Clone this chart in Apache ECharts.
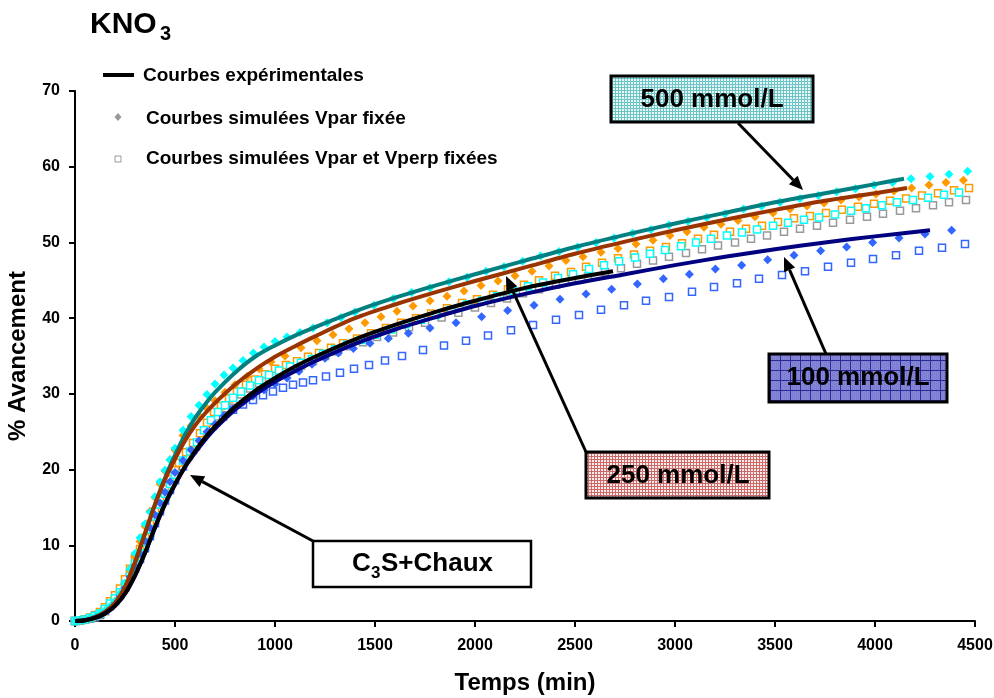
<!DOCTYPE html>
<html lang="fr">
<head>
    <meta charset="UTF-8">
    <title>KNO3 - % Avancement</title>
    <style>
        html, body { margin: 0; padding: 0; background: #ffffff; }
        #chart { width: 994px; height: 698px; }
    </style>
</head>
<body>
<div id="chart"></div>
<script src="https://cdn.jsdelivr.net/npm/echarts@6/dist/echarts.min.js"></script>
<script>
    /* axes */
    var xTicks = [0, 500, 1000, 1500, 2000, 2500, 3000, 3500, 4000, 4500];
    var yTicks = [0, 10, 20, 30, 40, 50, 60, 70];

    /* courbes expérimentales (temps en min, % avancement) */
    var expT = [0, 50, 100, 150, 200, 250, 300, 350, 400, 450, 500, 550, 600, 650, 700, 800, 900, 1000, 1100, 1200,
        1400, 1600, 1800, 2000, 2250, 2500, 2750, 3000, 3250, 3500, 3750, 4000];
    var exp500T = expT.concat([4145]);
    var exp500V = [0, 0.1, 0.5, 1.2, 2.3, 4.3, 7.6, 11.5, 15.4, 18.9, 21.9, 24.6, 26.8, 28.6, 30.2, 32.8, 34.9, 36.4, 37.7, 38.8,
        40.9, 42.7, 44.3, 45.8, 47.6, 49.4, 51.0, 52.5, 53.9, 55.3, 56.5, 57.7, 58.4];
    var exp250T = expT.concat([4160]);
    var exp250V = [0, 0.1, 0.5, 1.2, 2.4, 4.5, 7.8, 11.6, 15.4, 18.7, 21.4, 23.8, 25.8, 27.4, 28.8, 31.2, 33.2, 34.9, 36.3, 37.6,
        40.0, 41.8, 43.4, 44.9, 46.7, 48.5, 50.1, 51.6, 53.0, 54.3, 55.5, 56.5, 57.2];
    var exp100T = expT.concat([4275]);
    var exp100V = [0, 0.1, 0.4, 1.0, 2.0, 3.6, 6.0, 9.0, 12.3, 15.4, 18.0, 20.3, 22.2, 23.9, 25.4, 27.9, 29.9, 31.6, 33.0, 34.3,
        36.6, 38.5, 40.1, 41.6, 43.2, 44.6, 45.8, 47.0, 48.1, 49.1, 50.0, 50.8, 51.6];
    var expC3sT = expT.slice(0, 26).concat([2690]);
    var expC3sV = [0, 0.1, 0.4, 1.0, 2.0, 3.6, 6.0, 9.0, 12.4, 15.5, 18.1, 20.4, 22.4, 24.2, 25.7, 28.3, 30.4, 32.1, 33.6, 34.9,
        37.2, 39.1, 40.8, 42.3, 44.0, 45.3, 46.2];

    /* courbes simulées : début commun */
    var simEarlyT = [0, 25, 50, 75, 100, 125, 150, 175, 200, 225, 250, 275, 300, 325, 350, 375, 400, 425, 450, 475, 500];

    /* Vpar fixée (losanges) */
    var dia500T = simEarlyT.concat([540, 580, 620, 660, 700, 745, 790, 840, 892, 945, 1000, 1060, 1125, 1190, 1260, 1330, 1400,
        1495, 1592, 1683, 1775, 1870, 1960, 2055, 2145, 2238, 2328, 2420, 2513, 2605, 2695, 2788, 2880, 2970, 3065, 3158,
        3250, 3342, 3433, 3525, 3625, 3717, 3808, 3902, 3995, 4088, 4180, 4275, 4370, 4463]);
    var dia500V = [0, 0.05, 0.15, 0.35, 0.6, 1.0, 1.4, 1.9, 2.6, 3.6, 5.0, 6.9, 8.9, 11.0, 12.8, 14.4, 16.4, 18.4, 19.9, 21.3, 22.8,
        25.2, 27.0, 28.5, 29.9, 31.3, 32.5, 33.4, 34.4, 35.4, 36.2, 36.9, 37.5, 38.1, 38.7, 39.4, 40.1, 40.8, 41.7, 42.6, 43.4,
        44.0, 44.8, 45.4, 46.2, 46.8, 47.5, 48.2, 48.8, 49.4, 50.0, 50.6, 51.2, 51.7, 52.3, 52.8, 53.3, 53.8, 54.4, 54.8, 55.3,
        55.8, 56.2, 56.7, 57.1, 57.6, 57.9, 58.4, 58.7, 59.0, 59.4];
    var dia250T = simEarlyT.concat([540, 580, 620, 660, 700, 750, 800, 860, 920, 980, 1050, 1130, 1210, 1290, 1370, 1450, 1530,
        1610, 1690, 1775, 1860, 1945, 2030, 2115, 2200, 2285, 2370, 2455, 2540, 2630, 2715, 2805, 2890, 2975, 3060, 3145,
        3230, 3315, 3400, 3490, 3575, 3660, 3745, 3830, 3920, 4005, 4095, 4183, 4270, 4355, 4442]);
    var dia250V = [0, 0.05, 0.15, 0.3, 0.5, 0.8, 1.2, 1.8, 2.6, 3.6, 5.0, 6.6, 8.5, 10.5, 12.5, 14.5, 16.3, 18.1, 19.8, 21.3, 22.6,
        24.5, 25.8, 27.1, 28.1, 29.1, 30.2, 31.2, 32.3, 33.3, 34.2, 35.0, 36.1, 37.0, 37.8, 38.6, 39.4, 40.2, 40.9, 41.6, 42.3,
        42.9, 43.6, 44.3, 44.9, 45.6, 46.2, 46.9, 47.6, 48.1, 48.7, 49.2, 49.8, 50.3, 50.9, 51.4, 52.0, 52.4, 52.9, 53.4, 53.9,
        54.4, 54.8, 55.2, 55.6, 56.0, 56.4, 56.8, 57.2, 57.6, 57.9, 58.2];
    var dia100T = simEarlyT.concat([540, 580, 620, 660, 700, 745, 790, 840, 890, 945, 1000, 1060, 1120, 1185, 1250, 1317, 1392,
        1475, 1567, 1667, 1775, 1905, 2033, 2163, 2295, 2425, 2555, 2683, 2812, 2942, 3072, 3202, 3333, 3463, 3595, 3728,
        3858, 3988, 4120, 4250, 4383]);
    var dia100V = [0, 0.05, 0.15, 0.3, 0.5, 0.8, 1.2, 1.7, 2.4, 3.3, 4.4, 5.8, 7.3, 8.9, 10.6, 12.3, 14.0, 15.6, 17.0, 18.4, 19.6,
        21.2, 22.6, 23.8, 25.0, 26.0, 27.1, 28.0, 28.9, 29.7, 30.5, 31.3, 32.1, 33.0, 33.9, 34.7, 35.4, 36.0, 36.7, 37.3, 38.0,
        38.7, 39.4, 40.2, 41.0, 41.7, 42.5, 43.2, 43.8, 44.5, 45.2, 45.8, 46.5, 47.0, 47.7, 48.3, 48.9, 49.4, 50.0, 50.6, 51.1,
        51.6];

    /* Vpar et Vperp fixées (carrés) */
    var sq500T = simEarlyT.concat([540, 575, 610, 645, 680, 715, 750, 790, 830, 875, 920, 970, 1020, 1075, 1130, 1185, 1240,
        1300, 1360, 1430, 1500, 1580, 1655, 1730, 1805, 1880, 1960, 2035, 2110, 2190, 2265, 2340, 2415, 2490, 2570, 2645,
        2720, 2800, 2875, 2950, 3030, 3105, 3180, 3260, 3335, 3410, 3490, 3565, 3645, 3720, 3800, 3880, 3955, 4035, 4110,
        4190, 4265, 4345, 4420]);
    var sq500V = [0, 0.1, 0.2, 0.4, 0.7, 1.0, 1.6, 2.3, 3.0, 3.8, 4.9, 6.3, 7.6, 8.9, 10.4, 12.1, 13.8, 15.4, 16.8, 18.1, 19.3,
        21.2, 22.4, 23.6, 25.2, 26.5, 27.6, 28.5, 29.5, 30.3, 31.1, 31.8, 32.5, 33.1, 33.6, 34.1, 34.6, 35.3, 35.9, 36.5, 37.1,
        37.8, 38.5, 39.2, 39.8, 40.4, 41.1, 41.8, 42.3, 42.9, 43.6, 44.2, 44.7, 45.3, 45.8, 46.5, 47.0, 47.5, 48.0, 48.5, 49.0,
        49.5, 50.0, 50.5, 50.9, 51.3, 51.7, 52.2, 52.6, 53.0, 53.3, 53.7, 54.2, 54.5, 54.9, 55.3, 55.6, 55.9, 56.3, 56.6];
    var sq250T = simEarlyT.concat([520, 555, 590, 625, 660, 695, 730, 770, 810, 855, 900, 950, 1000, 1055, 1110, 1165, 1220,
        1280, 1340, 1410, 1480, 1555, 1630, 1705, 1780, 1860, 1935, 2010, 2090, 2165, 2245, 2320, 2400, 2480, 2555, 2635,
        2715, 2795, 2875, 2955, 3035, 3115, 3195, 3275, 3355, 3435, 3515, 3595, 3675, 3755, 3835, 3915, 3995, 4075, 4155,
        4235, 4315, 4395, 4470]);
    var sq250V = [0, 0.1, 0.2, 0.45, 0.8, 1.2, 1.8, 2.6, 3.4, 4.3, 5.5, 6.9, 8.3, 9.5, 11.0, 12.8, 14.5, 16.0, 17.4, 18.7, 19.9,
        20.9, 22.3, 23.5, 24.8, 26.2, 27.6, 28.4, 29.4, 30.3, 31.2, 31.9, 32.6, 33.3, 33.8, 34.3, 34.9, 35.4, 36.1, 36.7, 37.3,
        38.0, 38.7, 39.4, 40.0, 40.6, 41.3, 42.0, 42.5, 43.1, 43.8, 44.4, 45.0, 45.6, 46.1, 46.8, 47.3, 47.9, 48.4, 48.9, 49.4,
        49.9, 50.5, 51.0, 51.4, 51.8, 52.2, 52.7, 53.2, 53.5, 53.9, 54.3, 54.7, 55.1, 55.5, 55.8, 56.2, 56.5, 56.9, 57.2];
    var sq100T = simEarlyT.concat([540, 590, 640, 690, 740, 790, 840, 890, 940, 990, 1040, 1090, 1140, 1190, 1255, 1325, 1395,
        1470, 1550, 1635, 1740, 1845, 1955, 2065, 2180, 2290, 2405, 2520, 2630, 2745, 2855, 2970, 3085, 3195, 3310, 3420,
        3535, 3650, 3765, 3880, 3990, 4105, 4220, 4335, 4450]);
    var sq100V = [0, 0.1, 0.2, 0.35, 0.6, 0.9, 1.4, 2.0, 2.7, 3.5, 4.5, 5.8, 7.0, 8.2, 9.6, 11.2, 12.9, 14.5, 15.9, 17.3, 18.6,
        20.4, 22.6, 24.4, 25.8, 27.0, 27.9, 28.6, 29.2, 29.8, 30.3, 30.8, 31.2, 31.5, 31.8, 32.3, 32.8, 33.3, 33.8, 34.4, 35.0,
        35.8, 36.4, 37.0, 37.7, 38.4, 39.1, 39.8, 40.4, 41.1, 41.7, 42.3, 42.8, 43.5, 44.1, 44.6, 45.2, 45.7, 46.2, 46.8, 47.3,
        47.8, 48.3, 48.9, 49.3, 49.8];
    var sqC3sT = simEarlyT.concat([535, 570, 605, 640, 675, 710, 750, 790, 830, 875, 920, 970, 1020, 1075, 1130, 1190, 1250,
        1310, 1375, 1440, 1510, 1590, 1670, 1750, 1833, 1917, 2000, 2080, 2160, 2240, 2320, 2405, 2485, 2565, 2650, 2730,
        2810, 2890, 2970, 3055, 3135, 3215, 3300, 3380, 3460, 3545, 3625, 3710, 3790, 3875, 3960, 4040, 4125, 4205, 4290,
        4370, 4455]);
    var sqC3sV = [0, 0.05, 0.15, 0.3, 0.5, 0.8, 1.3, 1.9, 2.6, 3.4, 4.4, 5.8, 7.1, 8.4, 9.9, 11.6, 13.3, 14.9, 16.3, 17.6, 18.8,
        20.6, 21.8, 23.0, 24.6, 25.9, 27.0, 28.1, 29.1, 29.9, 30.7, 31.4, 32.1, 32.7, 33.2, 33.7, 34.3, 35.0, 35.6, 36.3, 36.8,
        37.5, 38.1, 38.8, 39.4, 40.1, 40.7, 41.4, 42.0, 42.6, 43.3, 43.8, 44.4, 45.0, 45.5, 46.1, 46.6, 47.2, 47.6, 48.1, 48.6,
        49.1, 49.6, 50.0, 50.5, 50.9, 51.4, 51.8, 52.2, 52.6, 53.0, 53.4, 53.8, 54.2, 54.5, 54.9, 55.3, 55.6];

    var FONT = "'Liberation Sans', Arial, sans-serif";

    function pts(ts, vs) {
        var out = [];
        for (var i = 0; i < ts.length; i++) {
            out.push([ts[i], vs[i]]);
        }
        return out;
    }

    function expLine(name, color, ts, vs) {
        return {
            name: name, type: 'line', data: pts(ts, vs),
            showSymbol: false, smooth: 0.3,
            lineStyle: {color: color, width: 4}, itemStyle: {color: color}
        };
    }

    function simSquare(name, color, ts, vs) {
        return {
            name: name, type: 'scatter', data: pts(ts, vs), symbol: 'rect', symbolSize: 7,
            itemStyle: {color: '#ffffff', borderColor: color, borderWidth: 1.5, opacity: 1}
        };
    }

    function simDiamond(name, color, ts, vs) {
        return {
            name: name, type: 'scatter', data: pts(ts, vs), symbol: 'diamond', symbolSize: 9,
            itemStyle: {color: color, opacity: 1}
        };
    }

    /* motifs des étiquettes */
    function makePattern(size, bg, line, fine) {
        var c = document.createElement('canvas');
        c.width = size;
        c.height = size;
        var g = c.getContext('2d');
        g.fillStyle = bg;
        g.fillRect(0, 0, size, size);
        if (fine) {
            g.fillStyle = fine;
            for (var i = 0; i < size; i += 2) {
                for (var j = (i / 2) % 2; j < size; j += 2) {
                    g.fillRect(i, j, 1, 1);
                }
            }
        }
        g.fillStyle = line;
        g.fillRect(0, 0, size, 1);
        g.fillRect(0, 0, 1, size);
        return {image: c, repeat: 'repeat'};
    }

    function arrow(x1, y1, x2, y2) {
        var ang = Math.atan2(y2 - y1, x2 - x1), len = 14, half = 6;
        var bx = x2 - len * Math.cos(ang), by = y2 - len * Math.sin(ang);
        var px = -Math.sin(ang) * half, py = Math.cos(ang) * half;
        return [
            {type: 'line', z: 100, shape: {x1: x1, y1: y1, x2: bx, y2: by}, style: {stroke: '#000', lineWidth: 3}},
            {type: 'polygon', z: 100, shape: {points: [[x2, y2], [bx + px, by + py], [bx - px, by - py]]}, style: {fill: '#000'}}
        ];
    }

    function box(x, y, w, h, fill, lw) {
        return {type: 'rect', z: 100, shape: {x: x, y: y, width: w, height: h},
            style: {fill: fill, stroke: '#000', lineWidth: lw}};
    }

    function label(x, y, text, size, align) {
        return {type: 'text', z: 101, x: x, y: y,
            style: {text: text, font: 'bold ' + size + 'px ' + FONT, fill: '#000',
                align: align || 'center', textAlign: align || 'center',
                verticalAlign: 'middle', textVerticalAlign: 'middle'}};
    }

    var graphics = [
        // titre KNO3
        label(90, 25, 'KNO', 30, 'left'),
        label(160, 34, '3', 20, 'left'),
        // légende
        {type: 'rect', z: 100, shape: {x: 103, y: 73, width: 31, height: 4}, style: {fill: '#000'}},
        label(143, 76, 'Courbes expérimentales', 19, 'left'),
        {type: 'polygon', z: 100, shape: {points: [[118, 113], [121.5, 117], [118, 121], [114.5, 117]]}, style: {fill: '#999999'}},
        label(146, 119, 'Courbes simulées Vpar fixée', 19, 'left'),
        {type: 'rect', z: 100, shape: {x: 115, y: 156, width: 6, height: 6}, style: {fill: '#fff', stroke: '#999999', lineWidth: 1}},
        label(146, 159, 'Courbes simulées Vpar et Vperp fixées', 19, 'left'),
        // étiquettes
        box(611, 76, 202, 46, makePattern(3, '#eaf7f7', '#6cc4c4'), 3),
        label(712, 100, '500 mmol/L', 26),
        box(586, 452, 183, 46, makePattern(3, '#fbecec', '#cc6a6a'), 3),
        label(678, 476, '250 mmol/L', 26),
        box(769, 354, 178, 48, makePattern(10, '#8686d8', '#2a2a96', '#7474c8'), 3),
        label(858, 378, '100 mmol/L', 26),
        box(313, 541, 218, 46, '#ffffff', 2.5),
        label(352, 564, 'C', 26, 'left'),
        label(371, 573, '3', 17, 'left'),
        label(381, 564, 'S+Chaux', 26, 'left')
    ];
    graphics = graphics
        .concat(arrow(738, 123, 803, 190))
        .concat(arrow(586, 452, 506, 276))
        .concat(arrow(826, 354, 784, 257))
        .concat(arrow(313, 541, 190, 475));

    var chart = echarts.init(document.getElementById('chart'));
    var option = {
        animation: false,
        backgroundColor: '#ffffff',
        textStyle: {fontFamily: FONT},
        grid: {left: 75, right: 19, top: 91, bottom: 77, containLabel: false, outerBoundsMode: 'none'},
        xAxis: {
            type: 'value', min: xTicks[0], max: xTicks[xTicks.length - 1], interval: 500,
            name: 'Temps (min)', nameLocation: 'middle', nameGap: 50,
            nameTextStyle: {fontSize: 24, fontWeight: 'bold', color: '#000'},
            axisLine: {onZero: false, lineStyle: {color: '#000', width: 2}},
            axisTick: {length: 6, lineStyle: {color: '#000', width: 2}},
            axisLabel: {fontSize: 16, fontWeight: 'bold', color: '#000', margin: 17,
                formatter: function (v) { return String(v); }},
            splitLine: {show: false}
        },
        yAxis: {
            type: 'value', min: yTicks[0], max: yTicks[yTicks.length - 1], interval: 10,
            name: '% Avancement', nameLocation: 'middle', nameGap: 45,
            nameTextStyle: {fontSize: 24, fontWeight: 'bold', color: '#000'},
            axisLine: {show: true, lineStyle: {color: '#000', width: 2}},
            axisTick: {show: true, length: 6, lineStyle: {color: '#000', width: 2}},
            axisLabel: {fontSize: 16, fontWeight: 'bold', color: '#000', margin: 15,
                formatter: function (v) { return String(v); }},
            splitLine: {show: false}
        },
        series: [
            expLine('500 exp', '#008080', exp500T, exp500V),
            expLine('250 exp', '#993300', exp250T, exp250V),
            expLine('100 exp', '#000080', exp100T, exp100V),
            expLine('C3S+Chaux exp', '#000000', expC3sT, expC3sV),
            simSquare('C3S+Chaux Vpar Vperp', '#999999', sqC3sT, sqC3sV),
            simSquare('100 Vpar Vperp', '#3366ff', sq100T, sq100V),
            simSquare('250 Vpar Vperp', '#ff9900', sq250T, sq250V),
            simSquare('500 Vpar Vperp', '#00ffff', sq500T, sq500V),
            simDiamond('100 Vpar', '#3366ff', dia100T, dia100V),
            simDiamond('250 Vpar', '#ff9900', dia250T, dia250V),
            simDiamond('500 Vpar', '#00ffff', dia500T, dia500V)
        ],
        graphic: graphics
    };
    chart.setOption(option);
</script>
</body>
</html>
